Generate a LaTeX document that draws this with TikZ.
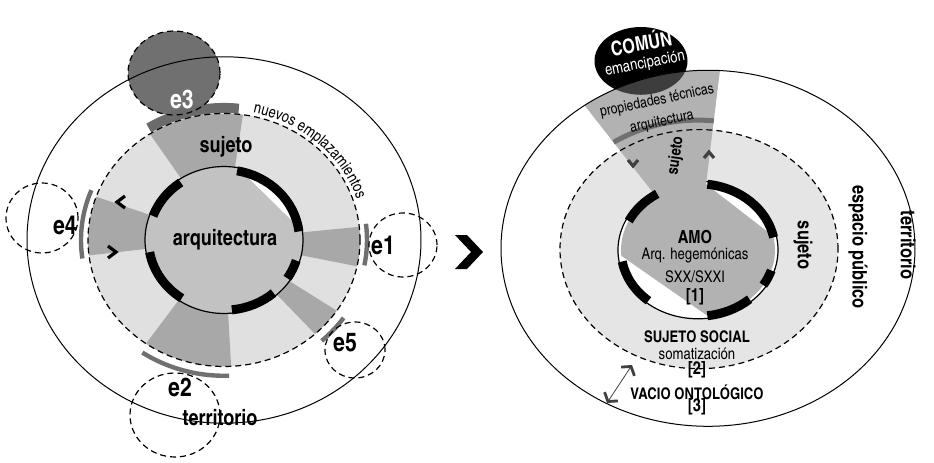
\documentclass[tikz,border=0pt]{standalone}
\usepackage{fontspec}
\setmainfont{texgyreheroscn}[Extension=.otf,UprightFont=*-regular,BoldFont=*-bold,ItalicFont=*-italic,BoldItalicFont=*-bolditalic]
\usetikzlibrary{decorations.text,arrows.meta}

\definecolor{anillo}{gray}{0.88}
\definecolor{anilloR}{gray}{0.9}
\definecolor{sector}{gray}{0.66}
\definecolor{nucleo}{gray}{0.76}
\definecolor{sectorR}{gray}{0.7}
\definecolor{banda}{gray}{0.42}

\newcommand{\tam}[1]{\fontsize{#1}{#1}\selectfont}

\tikzset{
  rotulo/.style={inner sep=0pt, font=\tam{11}\bfseries},
  fino/.style={inner sep=0pt, font=\tam{8}},
  ecirculo/.style={draw, line width=0.6pt, dash pattern=on 3pt off 2pt},
  ebanda/.style={line width=2.2pt, draw=black!56},
  bloque/.style={line width=4.5pt, black},
  cheuron/.style={line width=1.6pt, line join=miter},
}

\begin{document}
\begin{tikzpicture}[x=0.5pt,y=0.5pt]
    \useasboundingbox (0,0) rectangle (934,462);

    % e3 (fondo)
    \fill[black!56] (174,389) ellipse[x radius=46, y radius=42];

    % 左图
    \begin{scope}[shift={(224,222)}, yscale=0.93]
        % 环
        \fill[anillo] (0,0) circle[radius=136];
        \fill[white] (0,0) circle[radius=79];
        % 扇区
        \foreach \a/\b in {82/123, 160/187, -12/6, -48/-34, 235/273} {
            \fill[sector] (\a:79) -- (\a:136) arc[start angle=\a, end angle=\b, radius=136]
                -- (\b:79) arc[start angle=\b, end angle=\a, radius=79] -- cycle;
        }
        % 核心
        \fill[nucleo] (80:79) arc[start angle=80, end angle=190, radius=79] -- (236:79)
            arc[start angle=236, end angle=276, radius=79] -- (311:79)
            arc[start angle=311, end angle=367, radius=79] -- cycle;
        % e3 带
        \draw[banda, line width=5pt] (84:142) arc[start angle=84, end angle=122, radius=142];
        % 圆
        \draw[line width=0.5pt] (0,0) circle[radius=197];
        \draw[ecirculo] (0,0) circle[radius=136];
        \draw[line width=0.6pt] (0,0) circle[radius=79];
        % 黑弧
        \foreach \a/\b in {80/7, 125/160, 190/236, 276/311, 327/343} {
            \draw[bloque] (\a:75.5) arc[start angle=\a, end angle=\b, radius=75.5];
        }
        % 灰弧
        \foreach \a/\b/\r in {158/188/143, -11/7/143, -48/-35/146, 236/272/146} {
            \draw[ebanda] (\a:\r) arc[start angle=\a, end angle=\b, radius=\r];
        }
    \end{scope}

    % e 圆
    \draw[ecirculo] (174,389) ellipse[x radius=46, y radius=42];
    \draw[ecirculo] (42,244) ellipse[x radius=36, y radius=35];
    \draw[ecirculo] (403,217) ellipse[x radius=34, y radius=32];
    \draw[ecirculo] (355,112) ellipse[x radius=30, y radius=28];
    \draw[ecirculo] (175,47) ellipse[x radius=45, y radius=42];

    % 箭头 (e4)
    \draw[cheuron] (125,266) -- (117,260) -- (125,254);
    \draw[cheuron] (108,216) -- (116,210) -- (108,204);

    % 文字
    \path[decorate, decoration={text along path, text align=center,
        text={|\tam{8}|nuevos emplazamientos}}]
        (224,222) ++(79:140 and 130) arc[start angle=79, end angle=17, x radius=140, y radius=130];
    \node[rotulo] (arq) at (225,222) {arquitectura};
    \node[rotulo] (sujL) at (226,315) {sujeto};
    \node[rotulo, white, font=\tam{13}\bfseries] (e3) at (182,362) {e3};
    \node[rotulo, font=\tam{13}\bfseries] (e4) at (65,237) {e4};
    \node[rotulo, font=\tam{13}\bfseries] (e1) at (383,217) {e1};
    \node[rotulo, font=\tam{13}\bfseries] (e5) at (345,119) {e5};
    \node[rotulo, font=\tam{13}\bfseries] (e2) at (180,75) {e2};
    \node[rotulo] (terrL) at (220,44) {territorio};

    % 中间箭头
    \fill (455,227) -- (467,227) -- (483,210) -- (467,193) -- (455,193) -- (471,210) -- cycle;

    % 右图
    \fill[black] (641,401) ellipse[x radius=46.5, y radius=34];
    \begin{scope}[shift={(698,212)}, yscale=0.86]
        \fill[anilloR] (1,1) circle[radius=139];
        \fill[white] (0,0) circle[radius=80];
        % 扇区
        \begin{scope}
            \clip (10,2) circle[radius=207];
            \fill[sectorR] (0,0) -- (84:320) -- (124:320) -- cycle;
            \clip (0,0) -- (84:320) -- (124:320) -- cycle;
            \fill[black!76] (-57,220) ellipse[x radius=46.5, y radius=39.5];
        \end{scope}
        \draw[line width=2.5pt, black!56] (84:151) arc[start angle=84, end angle=124, radius=151];
        % 核心
        \fill[sectorR] (84:77) arc[start angle=84, end angle=185, radius=77] -- (277:77)
            -- (312:77) arc[start angle=312, end angle=372, radius=77] -- cycle;
        % 圆
        \draw[line width=0.5pt] (10,2) circle[radius=207];
        \draw[ecirculo] (1,1) circle[radius=139];
        \draw[line width=0.6pt] (84:80) arc[start angle=84, end angle=-236, radius=80];
        % 黑弧
        \foreach \a/\b in {83/11, -18/-32, -83/-48, 190/230, 122/154} {
            \draw[bloque] (\a:77) arc[start angle=\a, end angle=\b, radius=77];
        }
    \end{scope}

    % 箭头 (sujeto)
    \draw[cheuron, black!75] (628,302) -- (633,296) -- (638,302);
    \draw[cheuron, black!75] (704,304) -- (709,310) -- (714,304);

    % 双箭头
    \coordinate (vA) at (607,59);
    \coordinate (vB) at (632,97);
    \draw[black!75, line width=0.4pt,
        {Straight Barb[length=3pt,width=8pt,line width=1.4pt]}-{Straight Barb[length=3pt,width=8pt,line width=1.4pt]}]
        (vA) -- (vB);

    % 文字 (右)
    \node[rotulo, white, font=\tam{10}\bfseries, rotate=10] (comun) at (641,420) {COMÚN};
    \node[fino, white, font=\tam{8}, rotate=11] (eman) at (645,398) {emancipación};
    \node[fino, font=\tam{7.5}, rotate=12] (prop) at (657,361) {propiedades técnicas};
    \node[fino, font=\tam{7.5}, rotate=12] (arqR) at (662,340) {arquitectura};
    \node[rotulo, font=\tam{8}\bfseries, rotate=82] (sujS) at (676,306) {sujeto};
    \node[rotulo, font=\tam{9}\bfseries] (amo) at (695,225) {AMO};
    \node[fino] (hege) at (695,207) {Arq. hegemónicas};
    \node[fino] (sxx) at (695,185) {SXX/SXXI};
    \node[rotulo, font=\tam{9}\bfseries] (uno) at (695,165) {[1]};
    \node[rotulo, font=\tam{8}\bfseries] (social) at (697,125) {SUJETO SOCIAL};
    \node[fino] (soma) at (697,108) {somatización};
    \node[rotulo, font=\tam{9}\bfseries] (dos) at (697,92) {[2]};
    \node[rotulo, font=\tam{8}\bfseries] (vacio) at (697,70) {VACIO ONTOLÓGICO};
    \node[rotulo, font=\tam{9}\bfseries] (tres) at (697,55) {[3]};
    \node[rotulo, font=\tam{10}\bfseries, rotate=-90] (sujR) at (803,217) {sujeto};
    \node[rotulo, font=\tam{10}\bfseries, rotate=-90] (esp) at (858,215) {espacio público};
    \node[rotulo, font=\tam{10}\bfseries, rotate=-90] (terrR) at (908,217) {territorio};
\end{tikzpicture}
\end{document}
